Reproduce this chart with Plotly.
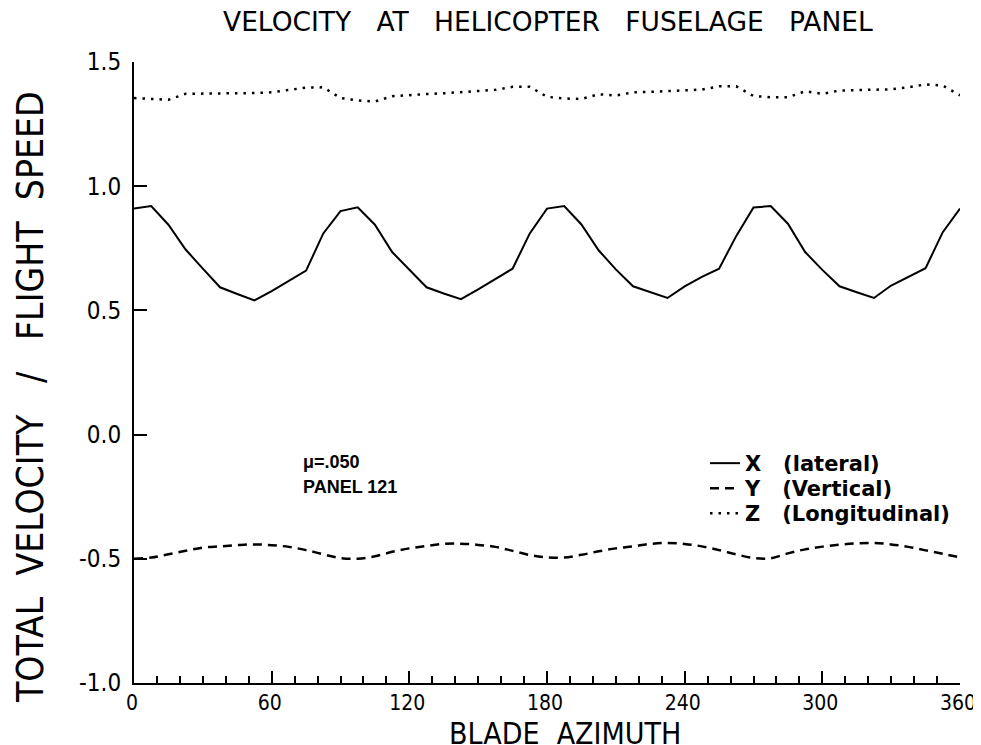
import plotly.graph_objects as go

azimuth = [0, 7.5, 15, 22.5, 30, 37.5, 45, 52.5, 60, 67.5, 75, 82.5, 90, 97.5, 105, 112.5,
           120, 127.5, 135, 142.5, 150, 157.5, 165, 172.5, 180, 187.5, 195, 202.5, 210, 217.5,
           225, 232.5, 240, 247.5, 255, 262.5, 270, 277.5, 285, 292.5, 300, 307.5, 315, 322.5,
           330, 337.5, 345, 352.5, 360]

x_lateral = [0.91, 0.92, 0.845, 0.745, 0.668, 0.593, 0.566, 0.54, 0.578, 0.62, 0.66, 0.81, 0.90,
             0.915, 0.845, 0.735, 0.665, 0.593, 0.568, 0.545, 0.585, 0.628, 0.668, 0.81, 0.91,
             0.92, 0.846, 0.742, 0.665, 0.597, 0.573, 0.55, 0.597, 0.635, 0.668, 0.80, 0.914,
             0.92, 0.849, 0.735, 0.663, 0.597, 0.573, 0.55, 0.60, 0.635, 0.67, 0.815, 0.91]

y_vertical = [-0.50, -0.495, -0.482, -0.468, -0.455, -0.450, -0.445, -0.442, -0.445, -0.452,
              -0.465, -0.482, -0.497, -0.500, -0.490, -0.472, -0.458, -0.448, -0.440, -0.439,
              -0.444, -0.452, -0.468, -0.485, -0.494, -0.495, -0.484, -0.470, -0.458, -0.450,
              -0.440, -0.436, -0.440, -0.450, -0.465, -0.482, -0.497, -0.498, -0.478, -0.462,
              -0.451, -0.443, -0.438, -0.436, -0.442, -0.452, -0.466, -0.480, -0.494]

z_longitudinal = [1.355, 1.352, 1.348, 1.372, 1.372, 1.372, 1.374, 1.375, 1.378, 1.386, 1.397,
                  1.398, 1.355, 1.345, 1.341, 1.362, 1.368, 1.371, 1.374, 1.378, 1.382, 1.388,
                  1.400, 1.400, 1.360, 1.353, 1.351, 1.370, 1.365, 1.378, 1.380, 1.382, 1.386,
                  1.389, 1.402, 1.402, 1.363, 1.358, 1.358, 1.382, 1.372, 1.385, 1.387, 1.389,
                  1.390, 1.398, 1.410, 1.405, 1.366]

x_ticks = [0, 60, 120, 180, 240, 300, 360]
y_ticks = [-1.0, -0.5, 0.0, 0.5, 1.0, 1.5]
y_tick_text = ["-1.0", "-0.5", "0.0", "0.5", "1.0", "1.5"]

title_text = "VELOCITY   AT   HELICOPTER   FUSELAGE   PANEL"
x_title = "BLADE  AZIMUTH"
y_title = "TOTAL  VELOCITY   /   FLIGHT  SPEED"
names = ["X   (lateral)", "Y   (Vertical)", "Z   (Longitudinal)"]
note_lines = ["\u03bc=.050", "PANEL 121"]

COND = "Liberation Sans Narrow, DejaVu Sans Condensed, Arial Narrow, sans-serif"
WIDE = "DejaVu Sans, Liberation Sans, sans-serif"
BOLDSANS = "Liberation Sans, Arial, sans-serif"

# plot frame in page pixels (page has an 8px body margin)
PX0, PX1, PY0, PY1 = 134, 960, 62, 683


def px(x):
    return (x - PX0) / (PX1 - PX0)


def py(y):
    return (PY1 - y) / (PY1 - PY0)


legend_ids = ["legend", "legend2", "legend3"]
legend_rows = [462, 487, 512]

fig = go.Figure()
fig.add_trace(go.Scatter(x=azimuth, y=x_lateral, mode="lines", name=names[0], legend=legend_ids[0],
                         line=dict(color="black", width=2)))
fig.add_trace(go.Scatter(x=azimuth, y=y_vertical, mode="lines", name=names[1], legend=legend_ids[1],
                         line=dict(color="black", width=2.5, dash="9px,6px", shape="spline")))
fig.add_trace(go.Scatter(x=azimuth, y=z_longitudinal, mode="lines", name=names[2], legend=legend_ids[2],
                         line=dict(color="black", width=2.5, dash="2.5px,6px")))

for i, line in enumerate(note_lines):
    fig.add_annotation(text=line, xref="paper", yref="paper",
                       x=px(301), y=py(462 + 25 * i), xanchor="left", yanchor="middle",
                       showarrow=False, align="left",
                       font=dict(family=BOLDSANS, size=18, color="black", weight="bold"))
fig.add_annotation(text=title_text, xref="paper", yref="paper", x=px(548), y=py(22),
                   xanchor="center", yanchor="middle", showarrow=False,
                   font=dict(family=WIDE, size=26.5, color="black"))
fig.add_annotation(text=x_title, xref="paper", yref="paper", x=px(565), y=py(733),
                   xanchor="center", yanchor="middle", showarrow=False,
                   font=dict(family=COND, size=30, color="black"))
fig.add_annotation(text=y_title, xref="paper", yref="paper", x=px(31), y=py(397),
                   xanchor="center", yanchor="middle", showarrow=False, textangle=-90,
                   font=dict(family=COND, size=37, color="black"))

legend_style = dict(xanchor="left", yanchor="top", bgcolor="rgba(0,0,0,0)",
                    font=dict(family=WIDE, size=21, color="black", weight="bold"))

fig.update_layout(
    width=965, height=737,
    paper_bgcolor="white", plot_bgcolor="white",
    margin=dict(l=126, r=13, t=54, b=62),
    showlegend=True,
    legend=dict(x=px(705), y=py(legend_rows[0] - 19), **legend_style),
    legend2=dict(x=px(705), y=py(legend_rows[1] - 19), **legend_style),
    legend3=dict(x=px(705), y=py(legend_rows[2] - 19), **legend_style),
)

fig.update_xaxes(
    range=[0, 360], tickmode="array", tickvals=x_ticks, ticks="inside", ticklen=12,
    tickwidth=1.5, tickcolor="black", showline=True, linecolor="black", linewidth=2,
    showgrid=False, zeroline=False, mirror=False, automargin=False,
    ticklabeloverflow="allow", ticklabelshift=-2,
    minor=dict(ticks="inside", dtick=10, ticklen=7, tickwidth=1.5, tickcolor="black", showgrid=False),
    tickfont=dict(family=COND, size=21, color="black"),
)
fig.update_yaxes(
    range=[-1.0, 1.5], tickmode="array", tickvals=y_ticks, ticktext=y_tick_text,
    ticks="inside", ticklen=13, tickwidth=1.5, tickcolor="black", automargin=False,
    showline=True, linecolor="black", linewidth=2, showgrid=False, zeroline=False,
    ticklabelstandoff=6,
    tickfont=dict(family=COND, size=24, color="black"),
)

fig.write_html("out.html")
